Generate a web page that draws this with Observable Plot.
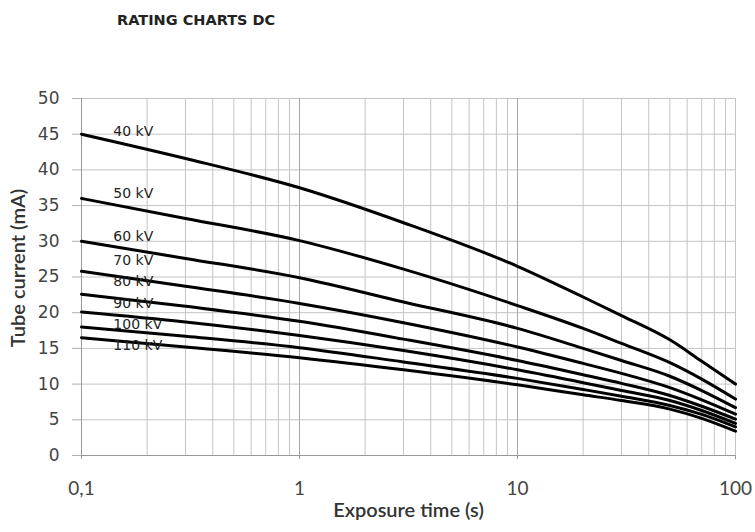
<!DOCTYPE html>
<html><head><meta charset="utf-8">
<script src="https://cdn.jsdelivr.net/npm/d3@7"></script>
<script src="https://cdn.jsdelivr.net/npm/@observablehq/plot@0.6"></script>
<style>
body{margin:0;background:#fff;}
#title{height:40px;padding-left:117px;font:bold 14.5px "DejaVu Sans",sans-serif;line-height:40px;color:#222;}
#chart svg{display:block;}
</style></head><body>
<div id="title">RATING CHARTS DC</div>
<div id="chart"></div>
<script>
// Exposure time (s) sample points
const times = [0.1, 0.3, 1, 3, 10, 20, 30, 50, 70, 100];
// Tube current (mA) per tube voltage
const kv40  = [45.0, 41.6, 37.5, 32.6, 26.5, 22.2, 19.6, 16.2, 13.2, 10.0];
const kv50  = [36.0, 33.2, 30.1, 26.1, 21.0, 17.8, 15.7, 13.0, 10.7, 7.9];
const kv60  = [30.0, 27.6, 24.9, 21.5, 17.8, 15.0, 13.3, 11.1, 9.1, 6.7];
const kv70  = [25.8, 23.7, 21.3, 18.6, 15.2, 12.9, 11.5, 9.5, 7.8, 5.8];
const kv80  = [22.6, 20.9, 18.8, 16.3, 13.3, 11.3, 10.1, 8.4, 6.9, 5.1];
const kv90  = [20.1, 18.7, 16.8, 14.7, 12.0, 10.2, 9.1, 7.7, 6.3, 4.5];
const kv100 = [18.0, 16.7, 15.1, 13.1, 10.8, 9.25, 8.3, 7.0, 5.75, 4.0];
const kv110 = [16.5, 15.2, 13.7, 12.0, 9.9, 8.5, 7.7, 6.5, 5.2, 3.4];

const seriesNames = ["40 kV", "50 kV", "60 kV", "70 kV", "80 kV", "90 kV", "100 kV", "110 kV"];
const seriesValues = [kv40, kv50, kv60, kv70, kv80, kv90, kv100, kv110];
// label anchor (time, current) for each series name
const labelTime = 0.14;
const labelY = [45.4, 36.7, 30.7, 27.3, 24.3, 21.3, 18.4, 15.4];

const xTicks = [0.1, 1, 10, 100];
const xTickLabels = ["0,1", "1", "10", "100"];
const yTicks = [0, 5, 10, 15, 20, 25, 30, 35, 40, 45, 50];
const xMinor = [0.1,0.2,0.3,0.4,0.5,0.6,0.7,0.8,0.9,1,2,3,4,5,6,7,8,9,10,20,30,40,50,60,70,80,90,100];

const rows = seriesNames.flatMap((name, i) =>
  times.map((t, j) => ({series: name, t, mA: seriesValues[i][j]})));

const chart = Plot.plot({
  width: 755, height: 492,
  marginLeft: 81, marginRight: 20, marginTop: 58, marginBottom: 77,
  x: {type: "log", domain: [0.1, 100]},
  y: {domain: [0, 50]},
  style: {background: "#fff", overflow: "visible"},
  marks: [
    Plot.ruleX(xMinor, {stroke: "#c4c4c4", strokeWidth: 1}),
    Plot.ruleY(yTicks, {stroke: "#c4c4c4", strokeWidth: 1}),
    Plot.ruleX([1, 10], {stroke: "#a8a8a8", strokeWidth: 1}),
    Plot.ruleX([0.1], {stroke: "#999", strokeWidth: 1}),
    Plot.ruleY([0], {stroke: "#999", strokeWidth: 1}),
    Plot.axisY(yTicks, {label: null, tickSize: 9, tickPadding: 13, stroke: "#b0b0b0",
      fontSize: 17, fontFamily: "DejaVu Sans", fill: "#444"}),
    Plot.axisX(xTicks, {label: null, tickSize: 4, tickFormat: () => "", stroke: "#999"}),
    Plot.text(xTicks, {x: d => d, frameAnchor: "bottom", dy: 33, lineAnchor: "middle",
      text: d => xTickLabels[xTicks.indexOf(d)],
      fontSize: 19, fontFamily: "Lato", fill: "#444"}),
    Plot.line(rows, {x: "t", y: "mA", z: "series", stroke: "#000", strokeWidth: 3,
      curve: "monotone-x", strokeLinejoin: "round"}),
    Plot.text(seriesNames, {x: () => labelTime, y: (d, i) => labelY[i], text: d => d,
      textAnchor: "start", fontSize: 14, fontFamily: "DejaVu Sans", fill: "#222"}),
    Plot.text(["Tube current (mA)"], {frameAnchor: "left", textAnchor: "middle", lineAnchor: "middle",
      rotate: -90, dx: -63, dy: -9,
      fontSize: 20, fontFamily: "Lato", fontWeight: 600, fill: "#333"}),
    Plot.text(["Exposure time (s)"], {frameAnchor: "bottom", lineAnchor: "middle", dy: 55,
      fontSize: 20, fontFamily: "Lato", fontWeight: 600, fill: "#333"})
  ]
});
document.getElementById("chart").appendChild(chart);
</script>
</body></html>
